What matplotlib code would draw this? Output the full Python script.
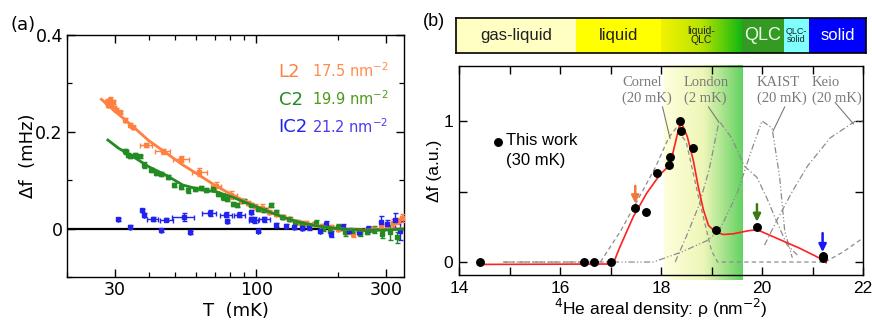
import numpy as np
import matplotlib
matplotlib.use("Agg")
import matplotlib.pyplot as plt
from matplotlib.colors import LinearSegmentedColormap
from matplotlib.ticker import FixedLocator, NullFormatter, LogLocator

plt.rcParams["mathtext.fontset"] = "dejavusans"

# ---------------- (a) temperature dependence ----------------
T_L2 = [28.0, 28.4, 28.8, 29.1, 29.5, 29.9, 30.4, 31.3, 32.6, 34.1, 35.0, 39.2, 45.1, 52.7,
        61.6, 71.0, 80.5, 88.0, 93.0, 99.0, 105.0, 111.0, 118.0, 125.0, 133.0, 142.0, 152.0,
        163.0, 175.0, 188.0, 200.0, 213.0, 226.0, 240.0, 255.0, 270.0, 287.0, 303.0, 318.0,
        333.0, 345.0]
df_L2 = [0.262, 0.255, 0.266, 0.258, 0.262, 0.250, 0.246, 0.240, 0.225, 0.214, 0.209, 0.172,
         0.160, 0.143, 0.117, 0.087, 0.070, 0.058, 0.052, 0.046, 0.042, 0.035, 0.030, 0.024,
         0.019, 0.014, 0.011, 0.009, 0.006, 0.004, 0.000, -0.006, -0.012, -0.005, -0.003,
         0.000, 0.004, 0.008, 0.012, 0.016, 0.022]
Terr_L2 = [0, 0, 0, 0, 0, 0, 0, 0, 0, 0, 0, 2.0, 3.0, 3.5, 4.0, 3.0, 4.0, 0, 0, 0, 5.0, 0, 0,
           0, 0, 0, 0, 0, 0, 0, 0, 0, 0, 0, 0, 0, 0, 0, 0, 0, 0]
dferr_L2 = [0.005, 0.004, 0.005, 0.004, 0.004, 0.004, 0.004, 0.004, 0.004, 0.004, 0.004, 0.004,
            0.005, 0.006, 0.008, 0.010, 0.008, 0.004, 0.004, 0.004, 0.008, 0.004, 0.004, 0.004,
            0.004, 0.004, 0.004, 0.004, 0.004, 0.004, 0.004, 0.006, 0.006, 0.004, 0.004, 0.004,
            0.006, 0.006, 0.008, 0.006, 0.008]

T_C2 = [32.7, 33.1, 33.6, 34.1, 35.5, 37.1, 38.5, 40.7, 42.5, 44.6, 47.2, 49.8, 52.7, 55.8,
        59.1, 62.6, 65.2, 69.0, 72.0, 75.0, 78.0, 81.7, 84.9, 90.0, 95.2, 101.0, 106.8, 113.5,
        117.9, 124.0, 131.3, 139.0, 147.0, 156.0, 166.0, 176.0, 187.0, 199.0, 212.0, 225.0,
        240.0, 256.0, 272.0, 290.0, 311.0, 330.0]
df_C2 = [0.160, 0.159, 0.152, 0.149, 0.152, 0.149, 0.131, 0.121, 0.114, 0.113, 0.106, 0.090,
         0.085, 0.079, 0.081, 0.083, 0.079, 0.081, 0.072, 0.066, 0.062, 0.051, 0.048, 0.058,
         0.048, 0.041, 0.038, 0.048, 0.034, 0.024, 0.020, 0.013, 0.010, 0.006, 0.011, 0.002,
         -0.004, 0.004, -0.008, -0.004, -0.010, -0.006, -0.002, -0.012, -0.008, -0.018]
dferr_C2 = [0.004, 0.004, 0.004, 0.004, 0.004, 0.004, 0.006, 0.004, 0.004, 0.004, 0.004, 0.004,
            0.004, 0.005, 0.004, 0.004, 0.004, 0.004, 0.004, 0.006, 0.004, 0.004, 0.004, 0.004,
            0.004, 0.004, 0.004, 0.004, 0.004, 0.004, 0.004, 0.004, 0.006, 0.006, 0.006, 0.006,
            0.006, 0.006, 0.008, 0.006, 0.006, 0.006, 0.008, 0.008, 0.015, 0.012]

T_IC2 = [30.8, 34.1, 37.9, 38.5, 41.5, 44.3, 46.5, 53.9, 57.0, 67.1, 77.2, 78.0, 86.5, 95.2,
         95.2, 97.7, 101.0, 106.8, 118.0, 128.0, 137.0, 147.0, 156.0, 171.0, 181.0, 188.0,
         208.0, 220.0, 238.0, 258.0, 289.0, 302.0, 325.0, 337.0]
df_IC2 = [0.019, 0.004, 0.0375, 0.029, 0.020, -0.003, 0.018, 0.024, -0.008, 0.032, 0.029,
          0.015, 0.029, 0.034, 0.020, 0.017, -0.004, 0.019, 0.008, 0.006, 0.004, 0.0015,
          0.003, -0.004, 0.010, -0.011, 0.003, -0.004, -0.008, -0.001, 0.013, 0.010, 0.017,
          -0.004]
Terr_IC2 = [0, 0, 0, 0, 2.0, 0, 2.5, 5.0, 0, 4.0, 4.0, 0, 4.0, 0, 0, 4.0, 0, 5.0, 0, 0, 0,
            0, 0, 0, 0, 0, 0, 0, 0, 0, 0, 0, 0, 0]
dferr_IC2 = [0.003, 0.003, 0.004, 0.004, 0.004, 0.003, 0.003, 0.008, 0.003, 0.006, 0.006,
             0.003, 0.006, 0.004, 0.004, 0.006, 0.003, 0.006, 0.004, 0.004, 0.004, 0.004,
             0.006, 0.006, 0.006, 0.006, 0.006, 0.006, 0.006, 0.006, 0.013, 0.008, 0.015, 0.020]

T_fitL2 = [26.8, 30.0, 35.0, 40.0, 46.5, 53.0, 61.6, 70.0, 81.6, 95.0, 108.0, 125.0, 143.7,
           165.0, 190.0, 220.0, 252.0, 300.0, 345.0]
df_fitL2 = [0.267, 0.243, 0.211, 0.182, 0.156, 0.133, 0.110, 0.090, 0.069, 0.052, 0.0375,
            0.024, 0.013, 0.006, 0.0015, -0.002, -0.003, -0.002, 0.000]
T_fitC2 = [28.3, 31.0, 35.0, 40.0, 46.5, 53.5, 61.6, 71.0, 81.6, 94.0, 108.0, 125.0, 143.7,
           165.0, 190.0, 220.0, 252.0, 300.0, 345.0]
df_fitC2 = [0.183, 0.166, 0.149, 0.128, 0.110, 0.090, 0.081, 0.076, 0.065, 0.051, 0.0375,
            0.024, 0.013, 0.006, 0.0015, -0.002, -0.004, -0.003, -0.001]

sample_names = ["L2", "C2", "IC2"]
sample_density = ["17.5", "19.9", "21.2"]
name_colors = ["#FF8040", "#228B22", "#2222EE"]
density_colors = ["#FF8C4C", "#4E9A1A", "#4A3AF0"]

# ---------------- (b) density dependence ----------------
rho_work = [14.42, 16.48, 16.68, 17.00, 17.49, 17.70, 17.93, 18.15, 18.18, 18.38, 18.40,
            18.64, 19.09, 19.90, 21.20, 21.21]
df_work = [0.00, 0.00, 0.00, 0.00, 0.385, 0.352, 0.63, 0.69, 0.745, 1.00, 0.93, 0.81, 0.23,
           0.245, 0.045, 0.03]

rho_guide = [14.42, 17.05, 17.19, 17.45, 17.72, 17.98, 18.18, 18.28, 18.36, 18.42, 18.52,
             18.64, 18.74, 18.84, 18.94, 19.07, 19.23, 19.43, 19.70, 19.90, 20.09, 20.75,
             21.15, 21.27]
df_guide = [-0.017, -0.014, 0.11, 0.32, 0.49, 0.62, 0.69, 0.84, 0.96, 0.975, 0.89, 0.72,
            0.53, 0.37, 0.26, 0.215, 0.195, 0.20, 0.22, 0.23, 0.20, 0.097, 0.026, -0.005]

rho_cornell = [14.87, 16.80, 17.20, 17.60, 17.90, 18.15, 18.30, 18.50, 18.75, 19.00, 19.12,
               21.25]
df_cornell = [0.0, 0.0, 0.22, 0.48, 0.68, 0.88, 0.95, 0.85, 0.45, 0.08, 0.0, 0.0]
rho_london = [18.28, 18.50, 18.75, 18.95, 19.15, 19.40, 19.65, 19.90, 20.10, 20.30, 20.50,
              20.70]
df_london = [0.0, 0.18, 0.40, 0.65, 1.0, 0.88, 0.68, 0.60, 0.45, 0.28, 0.12, 0.05]
rho_kaist = [14.90, 17.85, 18.40, 18.90, 19.15, 19.50, 19.80, 20.00, 20.20, 20.35, 20.45,
             20.60]
df_kaist = [0.0, 0.0, 0.07, 0.15, 0.22, 0.48, 0.80, 1.00, 0.95, 0.60, 0.22, 0.03]
rho_keio = [20.05, 20.30, 20.60, 20.90, 21.35, 21.85, 22.00]
df_keio = [0.12, 0.30, 0.50, 0.68, 0.88, 1.00, 1.00]
rho_keio_low = [21.25, 21.60, 22.00]
df_keio_low = [0.0, 0.07, 0.17]

group_labels = ["Cornel\n(20 mK)", "London\n(2 mK)", "KAIST\n(20 mK)", "Keio\n(20 mK)"]
label_rho = [17.23, 18.455, 19.90, 20.99]
leader_start = [(18.03, 1.10), (18.94, 1.10), (20.45, 1.10), (21.45, 1.13)]
leader_end = [(18.18, 0.876), (19.14, 0.995), (20.22, 0.93), (21.81, 0.98)]

arrow_rho = [17.49, 19.90, 21.20]
arrow_from = [0.54, 0.41, 0.205]
arrow_to = [0.415, 0.285, 0.07]
arrow_colors = ["#F07838", "#3A7A10", "#1818F0"]

phase_names = ["gas-liquid", "liquid", "liquid-\nQLC", "QLC", "QLC-\nsolid", "solid"]
phase_edges = [13.94, 16.32, 18.00, 19.60, 20.44, 20.93, 22.06]
phase_colors = ["#FFFFC4", "#FFFF00", None, "#349A22", "#80FFFF", "#0000FF"]
phase_text_colors = ["#202020", "#202020", "#202020", "#E8FFE8", "#202020", "#FFFFFF"]
phase_text_sizes = [12, 12, 7.5, 13, 6.5, 12]

band_range = (18.05, 19.60)

SANS_A = "DejaVu Sans"
SANS_B = "Liberation Sans"
SERIF = "Liberation Serif"

fig = plt.figure(figsize=(8.72, 3.22), dpi=100)

# ---------- panel (a) ----------
axa = fig.add_axes([67 / 872, 1 - 277 / 322, 337 / 872, 242 / 322])
axa.set_xscale("log")
axa.set_xlim(20, 350)
axa.set_ylim(-0.1, 0.4)
axa.axhline(0, color="black", lw=1.6, zorder=1)

series = [(T_L2, df_L2, Terr_L2, dferr_L2, name_colors[0]),
          (T_C2, df_C2, None, dferr_C2, name_colors[1]),
          (T_IC2, df_IC2, Terr_IC2, dferr_IC2, name_colors[2])]
for T, d, te, de, c in series:
    axa.errorbar(T, d, xerr=te, yerr=de, fmt="s", ms=3.2, color=c, ecolor=c,
                 elinewidth=1.0, capsize=1.8, capthick=1.0, lw=0, zorder=3)
axa.plot(T_fitL2, df_fitL2, color="#FF8040", lw=2.0, zorder=4)
axa.plot(T_fitC2, df_fitC2, color="#228B22", lw=2.0, zorder=4)

for i, (nm, dens) in enumerate(zip(sample_names, sample_density)):
    yfrac = [0.847, 0.731, 0.618][i]
    axa.text(0.628, yfrac, nm, transform=axa.transAxes, color=name_colors[i],
             fontsize=13, family=SANS_A, ha="left", va="center")
    axa.text(0.728, yfrac + 0.005, dens + r" nm$^{-2}$", transform=axa.transAxes,
             color=density_colors[i], fontsize=10.5, family=SANS_A, ha="left", va="center")

axa.xaxis.set_major_locator(FixedLocator([30, 100, 300]))
axa.set_xticklabels(["30", "100", "300"])
axa.xaxis.set_minor_locator(LogLocator(base=10, subs=np.arange(2, 10)))
axa.xaxis.set_minor_formatter(NullFormatter())
axa.set_yticks([0, 0.2, 0.4])
axa.set_yticklabels(["0", "0.2", "0.4"])
axa.set_yticks([-0.1, 0.1, 0.3], minor=True)
axa.tick_params(which="both", direction="in", top=True, right=True, labelsize=12.5)
axa.tick_params(which="major", length=6, width=1.0, pad=3)
axa.tick_params(which="minor", length=3.5, width=0.9)
for lab in axa.get_xticklabels() + axa.get_yticklabels():
    lab.set_family(SANS_A)
axa.set_xlabel("T  (mK)", fontsize=13, family=SANS_A, labelpad=2)
axa.set_ylabel("Δf  (mHz)", fontsize=13, family=SANS_A, labelpad=-1)
for s in axa.spines.values():
    s.set_linewidth(1.0)
fig.text(23 / 872, 1 - 25 / 322, "(a)", fontsize=13, family=SANS_A, ha="center", va="center")

# ---------- panel (b) phase bar ----------
axbar = fig.add_axes([456 / 872, 1 - 53 / 322, 410 / 872, 35 / 322])
axbar.set_xlim(phase_edges[0], phase_edges[-1])
axbar.set_ylim(0, 1)
grad = LinearSegmentedColormap.from_list("lq", ["#F2F200", "#B8E400", "#12B812"])
for i, name in enumerate(phase_names):
    x0, x1 = phase_edges[i], phase_edges[i + 1]
    if phase_colors[i] is None:
        axbar.imshow(np.linspace(0, 1, 256)[None, :], cmap=grad, aspect="auto",
                     extent=[x0, x1, 0, 1], zorder=1)
    else:
        axbar.axvspan(x0, x1, color=phase_colors[i], lw=0, zorder=1)
    axbar.text((x0 + x1) / 2, 0.5, name, ha="center", va="center",
               fontsize=phase_text_sizes[i], color=phase_text_colors[i], family=SANS_B,
               linespacing=0.95, zorder=3)
axbar.set_xticks([])
axbar.set_yticks([])
for s in axbar.spines.values():
    s.set_linewidth(1.2)

# ---------- panel (b) main ----------
axb = fig.add_axes([459 / 872, 1 - 275 / 322, 404 / 872, 209 / 322])
axb.set_xlim(14, 22)
axb.set_ylim(-0.092, 1.39)

band_cmap = LinearSegmentedColormap.from_list("band", ["#FFFFDC", "#EEF6B8", "#62D262"])
axb.imshow(np.linspace(0, 1, 256)[None, :], cmap=band_cmap, aspect="auto",
           extent=[band_range[0], band_range[1], -0.128, 1.39], zorder=0, clip_on=False)

gray = "#8C8C8C"
axb.plot(rho_cornell, df_cornell, color=gray, lw=0.9, ls=(0, (3.5, 2.5)), zorder=2)
axb.plot(rho_london, df_london, color=gray, lw=0.9, ls=(0, (5, 2, 1, 2)), zorder=2)
axb.plot(rho_kaist, df_kaist, color=gray, lw=0.9, ls=(0, (5, 1.8, 1, 1.8, 1, 1.8)), zorder=2)
axb.plot(rho_keio, df_keio, color=gray, lw=0.9, ls=(0, (5, 2, 1, 2)), zorder=2)
axb.plot(rho_keio_low, df_keio_low, color=gray, lw=0.9, ls=(0, (3.5, 2.5)), zorder=2)

for lab, x, (xs, ys), (xe, ye) in zip(group_labels, label_rho, leader_start, leader_end):
    axb.text(x, 1.215, lab, ha="left", va="center", fontsize=10.5, family=SERIF,
             color="#7A7A7A", linespacing=1.25, zorder=3)
    axb.plot([xs, xe], [ys, ye], color="#7A7A7A", lw=0.8, zorder=3)

axb.plot(rho_guide, df_guide, color="#FF2020", lw=1.2, zorder=4)
axb.plot(rho_work, df_work, "o", color="black", ms=5.4, zorder=5)

for x, y0, y1, c in zip(arrow_rho, arrow_from, arrow_to, arrow_colors):
    axb.annotate("", xy=(x, y1), xytext=(x, y0),
                 arrowprops=dict(arrowstyle="-|>,head_length=0.45,head_width=0.22",
                                 color=c, lw=1.8, shrinkA=0, shrinkB=0), zorder=6)

axb.plot([14.77], [0.853], "o", color="black", ms=5.4, zorder=5)
axb.text(14.94, 0.86, "This work", fontsize=12, family=SANS_B, ha="left", va="center")
axb.text(14.94, 0.72, "(30 mK)", fontsize=12, family=SANS_B, ha="left", va="center")

axb.set_xticks([14, 16, 18, 20, 22])
axb.set_xticks([15, 17, 19, 21], minor=True)
axb.set_yticks([0, 1])
axb.set_yticks([0.5], minor=True)
axb.tick_params(which="both", direction="in", top=True, right=True, labelsize=12.5)
axb.tick_params(which="major", length=6, width=1.0, pad=4)
axb.tick_params(which="minor", length=6, width=1.0)
for lab in axb.get_xticklabels() + axb.get_yticklabels():
    lab.set_family(SANS_B)
axb.set_xlabel("$^{4}$He areal density: ρ (nm$^{-2}$)", fontsize=12.5, family=SANS_B,
               labelpad=1)
axb.set_ylabel("Δf (a.u.)", fontsize=12.5, family=SANS_B, labelpad=1)
for s in axb.spines.values():
    s.set_linewidth(1.0)
fig.text(434 / 872, 1 - 22 / 322, "(b)", fontsize=13, family=SANS_B, ha="center", va="center")

fig.savefig("out.png", dpi=100)
